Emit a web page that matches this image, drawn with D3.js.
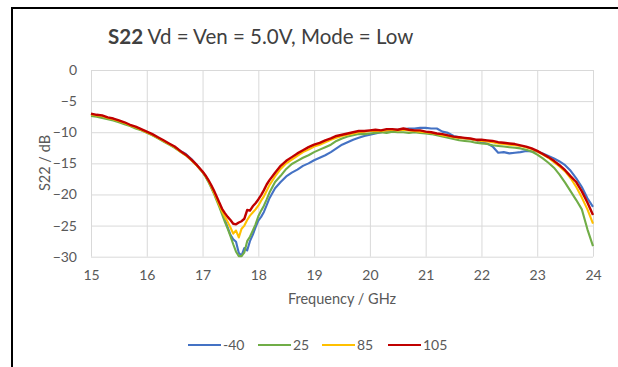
<!DOCTYPE html>
<html>
<head>
<meta charset="utf-8">
<script src="https://cdn.jsdelivr.net/npm/d3@7"></script>
<style>
  body { margin: 0; background: #fff; }
  svg { display: block; font-family: Lato, "Open Sans", sans-serif; }
</style>
</head>
<body>
<svg id="chart" width="618" height="367"></svg>
<script>
// frequency points (GHz), denser around the dip
var freq = [15.0,15.1,15.2,15.3,15.4,15.5,15.6,15.7,15.8,15.9,16.0,16.1,16.2,16.3,16.4,16.5,16.6,16.7,16.8,16.9,17.0,
  17.05,17.1,17.15,17.2,17.25,17.3,17.35,17.4,17.45,17.5,17.55,17.6,17.65,17.7,17.75,17.8,17.85,17.9,17.95,18.0,18.05,18.1,18.15,18.2,
  18.3,18.4,18.5,18.6,18.7,18.8,18.9,19.0,19.1,19.2,19.3,19.4,19.5,19.6,19.7,19.8,19.9,20.0,20.1,20.2,20.3,20.4,20.5,20.6,20.7,20.8,20.9,
  21.0,21.1,21.2,21.3,21.4,21.5,21.6,21.7,21.8,21.9,22.0,22.1,22.2,22.3,22.4,22.5,22.6,22.7,22.8,22.9,23.0,23.1,23.2,23.3,23.4,23.5,23.6,23.7,23.8,23.9,24.0];

var sM40 = [-7.1,-7.3,-7.4,-7.7,-7.9,-8.2,-8.5,-8.9,-9.2,-9.6,-10.0,-10.4,-10.9,-11.4,-11.9,-12.4,-13.0,-13.5,-14.3,-15.3,-16.4,
  -17.0,-17.8,-18.7,-19.6,-20.6,-21.7,-22.9,-24.1,-25.3,-26.5,-27.2,-27.6,-29.4,-29.8,-28.6,-29.0,-27.5,-26.5,-25.3,-24.2,-23.6,-22.8,-21.7,-20.6,
  -19.0,-18.0,-17.1,-16.5,-16.0,-15.4,-15.0,-14.5,-14.1,-13.7,-13.2,-12.6,-12.0,-11.6,-11.2,-10.9,-10.6,-10.4,-10.2,-10.0,-9.8,-9.7,-9.6,-9.5,-9.4,-9.4,-9.3,
  -9.3,-9.4,-9.4,-9.9,-10.1,-10.6,-10.8,-11.0,-11.1,-11.3,-11.6,-11.8,-12.3,-13.3,-13.2,-13.4,-13.3,-13.2,-13.0,-13.1,-13.1,-13.4,-13.8,-14.2,-14.7,-15.3,-16.2,-17.4,-18.8,-20.6,-22.0];

var s25 = [-7.4,-7.5,-7.7,-7.9,-8.1,-8.4,-8.7,-9.0,-9.4,-9.7,-10.1,-10.5,-11.0,-11.5,-12.0,-12.5,-13.1,-13.7,-14.5,-15.4,-16.4,
  -17.1,-17.9,-18.8,-19.8,-20.9,-22.0,-23.2,-24.4,-25.5,-26.7,-28.0,-29.2,-29.9,-29.9,-29.3,-27.5,-26.8,-25.8,-24.8,-23.5,-22.6,-21.8,-20.8,-19.7,
  -18.0,-17.0,-15.9,-15.1,-14.6,-14.1,-13.7,-13.2,-12.8,-12.4,-12.0,-11.4,-11.0,-10.7,-10.5,-10.3,-10.3,-10.2,-10.1,-10.0,-10.1,-9.9,-10.0,-10.0,-10.1,-10.0,-10.1,
  -10.2,-10.3,-10.5,-10.7,-10.9,-11.1,-11.3,-11.4,-11.5,-11.7,-11.8,-11.9,-12.1,-12.2,-12.3,-12.4,-12.5,-12.6,-12.8,-13.1,-13.6,-14.2,-14.9,-15.7,-16.8,-18.1,-19.5,-20.9,-22.4,-25.6,-28.3];

var s85 = [-7.1,-7.3,-7.4,-7.7,-7.9,-8.2,-8.5,-8.9,-9.2,-9.6,-10.0,-10.4,-10.9,-11.4,-11.9,-12.4,-13.1,-13.7,-14.5,-15.4,-16.4,
  -17.0,-17.7,-18.6,-19.6,-20.6,-21.7,-22.7,-23.6,-24.4,-25.3,-26.3,-25.8,-26.9,-25.5,-25.0,-24.1,-23.4,-22.9,-22.4,-21.8,-21.0,-20.3,-19.4,-18.5,
  -17.1,-15.9,-15.0,-14.4,-13.8,-13.2,-12.8,-12.3,-12.0,-11.6,-11.2,-10.9,-10.6,-10.4,-10.2,-10.0,-9.9,-9.8,-9.8,-9.8,-9.7,-9.6,-9.7,-9.6,-9.7,-9.8,-9.9,
  -10.0,-10.1,-10.3,-10.5,-10.6,-10.8,-10.9,-11.0,-11.1,-11.3,-11.4,-11.5,-11.6,-11.8,-11.9,-12.0,-12.1,-12.2,-12.4,-12.7,-13.1,-13.6,-14.1,-14.8,-15.5,-16.3,-17.4,-18.8,-20.5,-22.4,-24.7];

var s105 = [-7.0,-7.2,-7.3,-7.6,-7.8,-8.1,-8.4,-8.8,-9.1,-9.5,-9.9,-10.3,-10.8,-11.3,-11.8,-12.3,-13.0,-13.6,-14.4,-15.3,-16.3,
  -16.9,-17.6,-18.4,-19.3,-20.3,-21.3,-22.3,-23.0,-23.6,-24.1,-24.7,-24.8,-24.5,-24.3,-23.9,-22.5,-22.6,-21.9,-21.4,-20.8,-20.1,-19.3,-18.4,-17.7,
  -16.5,-15.4,-14.6,-14.0,-13.4,-12.9,-12.4,-12.0,-11.7,-11.3,-11.0,-10.6,-10.4,-10.2,-10.0,-9.8,-9.8,-9.7,-9.6,-9.7,-9.5,-9.5,-9.6,-9.4,-9.6,-9.7,-9.7,
  -9.9,-10.0,-10.2,-10.3,-10.5,-10.7,-10.8,-10.9,-11.0,-11.2,-11.2,-11.3,-11.4,-11.6,-11.7,-11.8,-11.9,-12.1,-12.3,-12.6,-13.0,-13.5,-14.0,-14.6,-15.3,-16.1,-17.1,-18.0,-19.5,-21.3,-23.3];

var seriesNames = ["-40", "25", "85", "105"];
var seriesColors = ["#4472C4", "#70AD47", "#FFC000", "#C00000"];
var seriesValues = [sM40, s25, s85, s105];
var xTicks = [15,16,17,18,19,20,21,22,23,24];
var yTicks = [0,-5,-10,-15,-20,-25,-30];

var svg = d3.select("#chart");

// outer frame (cropped on the right and bottom)
svg.append("rect")
  .attr("x", 12).attr("y", 8)
  .attr("width", 700).attr("height", 400)
  .attr("fill", "none").attr("stroke", "#000").attr("stroke-width", 2);

var plot = {left: 91, top: 70, right: 593, bottom: 256.7};

var xScale = d3.scaleLinear().domain([15, 24]).range([plot.left, plot.right]);
var yScale = d3.scaleLinear().domain([-30, 0]).range([plot.bottom, plot.top]);

// gridlines + tick labels
var yAxis = d3.axisLeft(yScale)
  .tickValues(yTicks)
  .tickSizeInner(-(plot.right - plot.left))
  .tickSizeOuter(0)
  .tickPadding(14);
var gy = svg.append("g").attr("transform", "translate(" + plot.left + ",0)").call(yAxis);
gy.select(".domain").remove();
gy.selectAll(".tick line").attr("stroke", "#d9d9d9").attr("stroke-width", 1);
gy.selectAll(".tick text").attr("fill", "#595959").style("font-size", "14px").style("font-family", "Lato, sans-serif");

var xAxis = d3.axisBottom(xScale)
  .tickValues(xTicks)
  .tickSizeInner(-(plot.bottom - plot.top))
  .tickSizeOuter(0)
  .tickPadding(13);
var gx = svg.append("g").attr("transform", "translate(0," + plot.bottom + ")").call(xAxis);
gx.select(".domain").remove();
gx.selectAll(".tick line").attr("stroke", "#d9d9d9").attr("stroke-width", 1);
gx.selectAll(".tick text").attr("fill", "#595959").style("font-size", "14px").style("font-family", "Lato, sans-serif");

// series lines
var line = d3.line()
  .x(function(d) { return xScale(d[0]); })
  .y(function(d) { return yScale(d[1]); });

seriesValues.forEach(function(vals, i) {
  var pts = freq.map(function(f, j) { return [f, vals[j]]; });
  svg.append("path")
    .datum(pts)
    .attr("d", line)
    .attr("fill", "none")
    .attr("stroke", seriesColors[i])
    .attr("stroke-width", i == 3 ? 2.4 : 2.1)
    .attr("stroke-linejoin", "round");
});

// title
var title = svg.append("text")
  .attr("x", 108).attr("y", 44)
  .attr("fill", "#404040")
  .style("font-size", "20.5px");
title.append("tspan").attr("font-weight", "bold").text("S22");
title.append("tspan").text(" Vd = Ven = 5.0V, Mode = Low");

// axis titles
svg.append("text")
  .attr("x", (plot.left + plot.right) / 2).attr("y", 304)
  .attr("text-anchor", "middle")
  .attr("fill", "#595959")
  .style("font-size", "14.5px")
  .text("Frequency / GHz");

svg.append("text")
  .attr("transform", "translate(50,163) rotate(-90)")
  .attr("text-anchor", "middle")
  .attr("fill", "#595959")
  .style("font-size", "14.5px")
  .text("S22  / dB");

// legend
var legendX = [188, 258, 322, 388];
var legend = svg.append("g");
seriesNames.forEach(function(name, i) {
  legend.append("line")
    .attr("x1", legendX[i]).attr("x2", legendX[i] + 33)
    .attr("y1", 345).attr("y2", 345)
    .attr("stroke", seriesColors[i]).attr("stroke-width", 2.2);
  legend.append("text")
    .attr("x", legendX[i] + 35).attr("y", 350)
    .attr("fill", "#595959")
    .style("font-size", "14px")
    .text(name);
});
</script>
</body>
</html>
